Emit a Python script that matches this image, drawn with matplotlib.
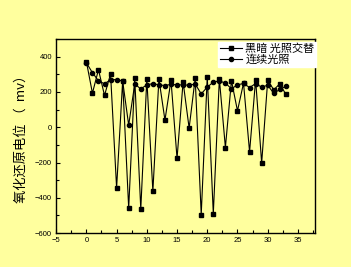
import numpy as np
import matplotlib
matplotlib.use('Agg')
import matplotlib.pyplot as plt
from matplotlib.ticker import MultipleLocator

plt.rcParams['font.family'] = ['Liberation Sans', 'Noto Sans CJK SC', 'DejaVu Sans']

x = np.arange(0, 34)
alternating = [372, 193, 326, 180, 302, -344, 262, -459, 278, -465,
               274, -363, 274, 40, 266, -177, 257, -5, 277, -495,
               287, -490, 274, -115, 264, 93, 250, -140, 270, -203,
               266, 212, 246, 186]
continuous = [365, 309, 263, 246, 269, 270, 262, 12, 245, 217,
              240, 247, 240, 236, 243, 240, 240, 238, 245, 189,
              227, 256, 262, 250, 218, 240, 248, 225, 247, 227,
              238, 192, 214, 232]
label_alt = '黑暗 光照交替'
label_cont = '连续光照'
ylabel = '氧化还原电位 （  mv）'

bg = '#ffff9e'
fig = plt.figure(figsize=(3.51, 2.67), dpi=100, facecolor=bg)
ax = fig.add_axes([0.16, 0.127, 0.737, 0.727], facecolor=bg)

ax.plot(x, alternating, '-s', color='black', lw=0.8, ms=3.2, label=label_alt)
ax.plot(x, continuous, '-o', color='black', lw=0.8, ms=3.0, label=label_cont)

ax.set_xlim(-5, 37.8)
ax.set_ylim(-600, 500)
ax.xaxis.set_major_locator(MultipleLocator(5))
ax.xaxis.set_minor_locator(MultipleLocator(2.5))
ax.yaxis.set_major_locator(MultipleLocator(200))
ax.yaxis.set_minor_locator(MultipleLocator(100))
ax.tick_params(which='both', direction='in', labelsize=5.5, width=0.8, pad=3)
ax.tick_params(which='major', length=3)
ax.tick_params(which='minor', length=2)
ax.set_yticks([-600, -400, -200, 0, 200, 400])
for s in ax.spines.values():
    s.set_linewidth(1.0)

ax.set_ylabel(ylabel, fontsize=9.5, family=['Noto Sans CJK SC', 'DejaVu Sans'], labelpad=5)

leg = ax.legend(loc='upper right', bbox_to_anchor=(1.005, 0.985),
                prop={'family': ['Noto Sans CJK SC', 'DejaVu Sans'], 'size': 8},
                frameon=True, fancybox=False, edgecolor='white', framealpha=1,
                handlelength=2.0, handletextpad=0.3, borderpad=0.15, labelspacing=0.05,
                borderaxespad=0)

plt.savefig('out.png', dpi=100, facecolor=bg)
plt.close()
